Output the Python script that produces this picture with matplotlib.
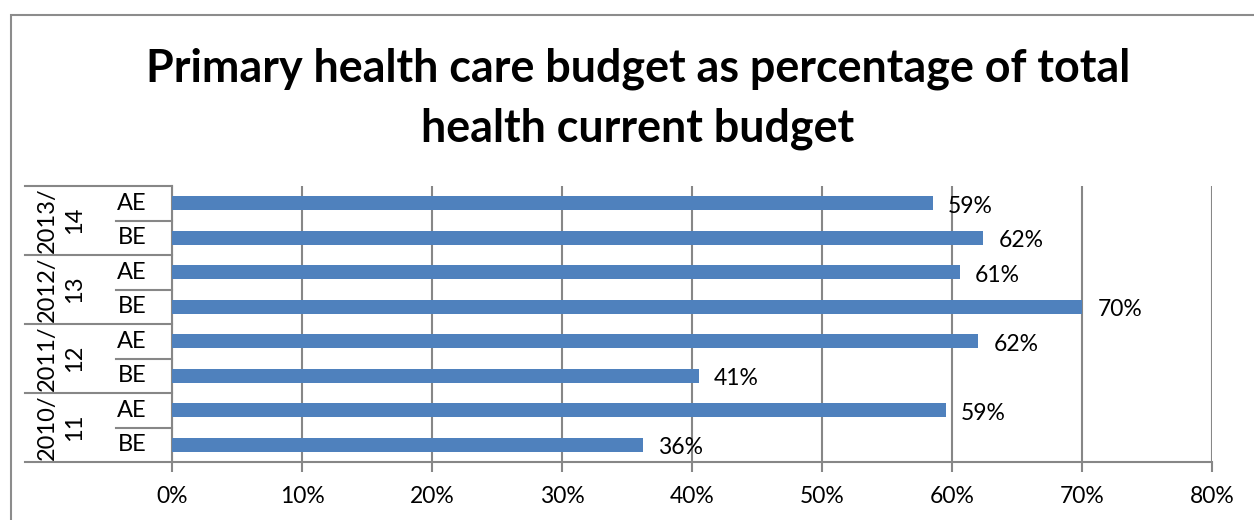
import matplotlib
matplotlib.use("Agg")
import matplotlib.pyplot as plt
from matplotlib.patches import Rectangle
from matplotlib.lines import Line2D
import matplotlib.transforms as mtransforms

plt.rcParams['font.family'] = ['Lato', 'DejaVu Sans']

# ---- data (bottom to top) ----
years = ["2010/\n11", "2011/\n12", "2012/\n13", "2013/\n14"]
sub_labels = ["BE", "AE"]
values = [36.2, 59.5, 40.5, 62.0, 70.0, 60.6, 62.4, 58.5]
value_labels = ["36%", "59%", "41%", "62%", "70%", "61%", "62%", "59%"]
x_ticks = [0, 10, 20, 30, 40, 50, 60, 70, 80]
x_ticklabels = ["0%", "10%", "20%", "30%", "40%", "50%", "60%", "70%", "80%"]
title = "Primary health care budget as percentage of total\nhealth current budget"

bar_color = "#4F81BD"
grid_color = "#878787"

W, H = 1254, 520
fig = plt.figure(figsize=(W / 100, H / 100), dpi=100)

# outer chart border
fig.patches.append(Rectangle((11 / W, -0.2), 2.0, 1.2 - 15 / H,
                             transform=fig.transFigure, fill=False,
                             edgecolor="#8c8c8c", linewidth=1.5, zorder=0))

ax = fig.add_axes([172 / W, (H - 462) / H, (1212 - 172) / W, (462 - 186) / H])

n = len(values)
ypos = list(range(n))
ax.barh(ypos, values, height=0.4, color=bar_color, zorder=3)

for y, v, lab in zip(ypos, values, value_labels):
    ax.annotate(lab, (v, y), xytext=(11, -2), textcoords="offset points",
                ha="left", va="center", fontsize=16.5, color="black", zorder=4)

ax.set_xlim(0, 80)
ax.set_ylim(-0.5, n - 0.5)
ax.set_xticks(x_ticks)
ax.set_xticklabels(x_ticklabels, fontsize=16.5)
ax.set_yticks([])
ax.tick_params(axis="x", length=7, width=1.5, color=grid_color, pad=10)
ax.grid(axis="x", color=grid_color, linewidth=1.5, zorder=0)
for s in ["top", "right"]:
    ax.spines[s].set_visible(False)
for s in ["left", "bottom"]:
    ax.spines[s].set_color(grid_color)
    ax.spines[s].set_linewidth(1.5)

# category table on the left
trans = mtransforms.blended_transform_factory(ax.transAxes, ax.transData)
x_outer = (25 - 172) / 1040
x_inner = (116 - 172) / 1040
for k in range(len(years) + 1):
    yb = -0.5 + 2 * k
    ax.add_line(Line2D([x_outer, 0], [yb, yb], transform=trans, color=grid_color,
                       linewidth=1.5, clip_on=False))
for k in range(len(years)):
    ym = 0.5 + 2 * k
    ax.add_line(Line2D([x_inner, 0], [ym, ym], transform=trans, color=grid_color,
                       linewidth=1.5, clip_on=False))
for k, yl in enumerate(years):
    ax.text((61 - 172) / 1040, 0.5 + 2 * k, yl, transform=trans, rotation=90,
            ha="center", va="center", fontsize=17, linespacing=1.4,
            multialignment="center")
for i in range(n):
    ax.text((132 - 172) / 1040, i, sub_labels[i % 2], transform=trans,
            ha="center", va="center", fontsize=17)

fig.text(0.5 + (638 - 627) / W, (H - 99) / H, title, ha="center", va="center",
         fontsize=32.3, fontweight="bold", linespacing=1.5)

fig.savefig("out.png", dpi=100)
